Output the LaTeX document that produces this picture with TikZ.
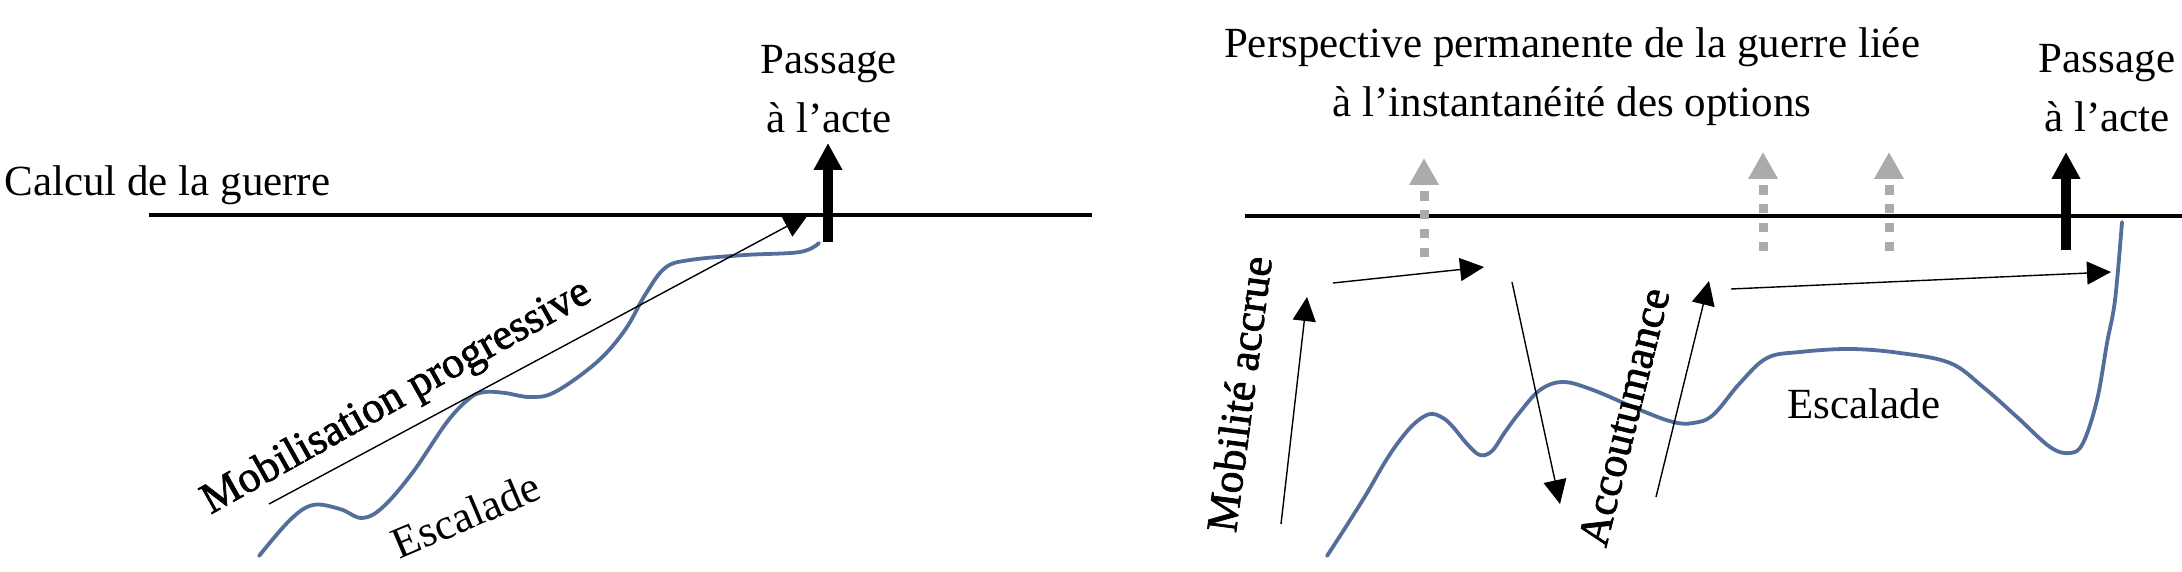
\documentclass[tikz,border=0pt]{standalone}
\usepackage{fontspec}
\newfontfamily\garfont{Liberation Serif}
\newfontfamily\heavyfont[RawFeature={embolden=1.6}]{Liberation Serif}
\usetikzlibrary{arrows.meta}
\definecolor{curveblue}{RGB}{84,110,155}
\definecolor{hintgray}{RGB}{171,171,171}
\tikzset{
 gtext/.style={font=\garfont\fontsize{21.5pt}{29.5pt}\selectfont, inner sep=0pt, align=center},
 ptext/.style={font=\garfont\fontsize{22pt}{26pt}\selectfont, inner sep=0pt},
 htext/.style={font=\heavyfont\fontsize{22pt}{26pt}\selectfont, inner sep=0pt},
 axisline/.style={line width=2.25pt},
 thinarrow/.style={line width=0.7pt, -{Triangle[length=12pt,width=11.5pt]}},
 actarrow/.style={line width=5pt, -{Triangle[length=13.5pt,width=13.5pt]}},
 optarrow/.style={line width=4.5pt, hintgray, dash pattern=on 4.65pt off 4.75pt, -{Triangle[length=13.5pt,width=14pt]}},
 escalation/.style={curveblue, line width=1.9pt, line cap=round}
}
\begin{document}
\begin{tikzpicture}[x=0.5pt,y=-0.5pt]
\useasboundingbox (0,0) rectangle (2182,572);

% ---------- left panel ----------
\coordinate (L1) at (149,215);
\coordinate (L2) at (1092,215);
\draw[axisline] (L1) -- (L2);
\node[gtext, anchor=base west] (calc) at (4,196) {Calcul de la guerre};

\draw[escalation] plot[smooth, tension=0.6] coordinates {
 (259,556) (290,520) (313,505) (340,509) (362,518) (383,507) (413,472)
 (447,422) (470,398) (485,392) (505,393) (530,397) (555,392) (597,362)
 (625,330) (645,295) (665,268) (690,260) (745,255) (800,252) (819,243)};

\coordinate (mS) at (269,504);
\coordinate (mE) at (808,215);
\draw[thinarrow] (mS) -- (mE);

\coordinate (pS) at (828,242);
\coordinate (pE) at (828,143);
\draw[actarrow] (pS) -- (pE);
\node[gtext, anchor=base] (passL) at (829,133) {Passage\\à l’acte};

\node[htext, rotate=29.3] (mobil) at (397,398) {Mobilisation progressive};
\node[ptext, rotate=23] (escL) at (466,515) {Escalade};

% ---------- right panel ----------
\coordinate (R1) at (1245,216);
\coordinate (R2) at (2182,216);
\draw[axisline] (R1) -- (R2);

\node[gtext, anchor=base] (persp) at (1572,117) {Perspective permanente de la guerre liée\\à l’instantanéité des options};
\node[gtext, anchor=base] (passR) at (2107,132) {Passage\\à l’acte};

\coordinate (g1S) at (1424,257); \coordinate (g1E) at (1424,158);
\coordinate (g2S) at (1763,251); \coordinate (g2E) at (1763,152);
\coordinate (g3S) at (1889,251); \coordinate (g3E) at (1889,152);
\draw[optarrow] (g1S) -- (g1E);
\draw[optarrow] (g2S) -- (g2E);
\draw[optarrow] (g3S) -- (g3E);

\coordinate (qS) at (2066,250);
\coordinate (qE) at (2066,152);
\draw[actarrow] (qS) -- (qE);

\draw[escalation] plot[smooth, tension=0.6] coordinates {
 (1327,556) (1347,525) (1367,493) (1385,462) (1400,440) (1415,423) (1430,414)
 (1443,418) (1453,427) (1468,445) (1480,455) (1492,451) (1505,432) (1520,412)
 (1540,390) (1563,382) (1593,390) (1640,410) (1673,422) (1693,423) (1713,415)
 (1740,383) (1767,358) (1800,352) (1850,349) (1900,353) (1950,363) (1983,387)
 (2017,417) (2050,447) (2070,453) (2083,443) (2097,400) (2107,343) (2115,300)
 (2122,222)};

\coordinate (a1S) at (1281,524); \coordinate (a1E) at (1307,297);
\coordinate (a2S) at (1333,283); \coordinate (a2E) at (1484,267);
\coordinate (a3S) at (1512,282); \coordinate (a3E) at (1560,504);
\coordinate (a4S) at (1656,497); \coordinate (a4E) at (1709,281);
\coordinate (a5S) at (1731,289); \coordinate (a5E) at (2111,272);
\draw[thinarrow] (a1S) -- (a1E);
\draw[thinarrow] (a2S) -- (a2E);
\draw[thinarrow] (a3S) -- (a3E);
\draw[thinarrow] (a4S) -- (a4E);
\draw[thinarrow] (a5S) -- (a5E);

\node[htext, rotate=82.5] (mobR) at (1239,394) {Mobilité accrue};
\node[htext, rotate=76] (accou) at (1624,417) {Accoutumance};
\node[gtext, anchor=base] (escR) at (1864,418) {Escalade};
\end{tikzpicture}
\end{document}
